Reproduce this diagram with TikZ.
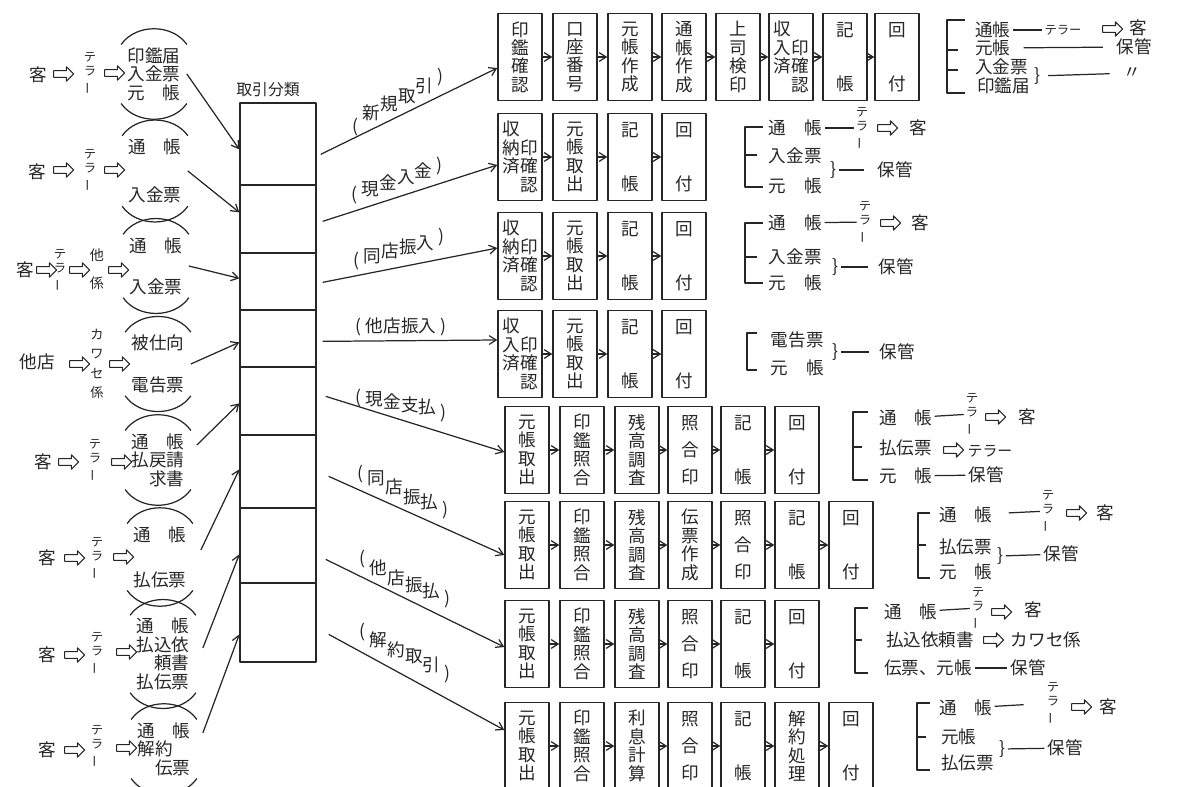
\documentclass[tikz,border=0pt]{standalone}
\usepackage{fontspec}
\setmainfont{Noto Sans CJK JP}
\usepackage{graphicx}
\usepackage{tikz}
\usetikzlibrary{arrows.meta,calc,shapes.arrows}

\newcommand{\tatebo}{\rotatebox[origin=c]{90}{ー}}

\begin{document}
\begin{tikzpicture}[x=0.02cm,y=-0.02cm,>={Straight Barb[length=4pt,width=5pt]},line join=round,
  txt/.style={inner sep=1.5pt,text=black!85,font=\fontsize{10}{10.5}\selectfont},
  grp/.style={txt,align=center,inner xsep=3.5pt},
  tate/.style={inner sep=1pt,align=center,text=black!85,font=\fontsize{7}{8.4}\selectfont},
  kana/.style={inner sep=1.5pt,text=black!85,font=\fontsize{8.5}{9}\selectfont},
  harr/.style={single arrow,draw=black!85,line width=0.6pt,minimum height=0.4cm,inner sep=1.6pt,single arrow head extend=2.2pt},
  stp/.style={draw=black!85,line width=0.8pt,minimum width=0.88cm,minimum height=1.74cm,inner sep=0pt,align=center,text=black!85,font=\fontsize{10}{10.5}\selectfont},
  paren/.style={draw=black!85,line width=0.7pt},
  con/.style={draw=black!85,line width=0.7pt},
  lbl/.style={text=black!85,font=\fontsize{10}{10}\selectfont,inner sep=1pt}]
  \useasboundingbox (0,0) rectangle (1186,787);

  % classification column
  \node[txt,font=\fontsize{9}{9}\selectfont] (ttl) at (268,90) {取引分類};
  \node[draw=black!85,line width=0.8pt,minimum width=1.52cm,minimum height=11.18cm,inner sep=0pt] (cls) at (278,382.5) {};
  \draw[con] (240,185) -- (316,185);
  \draw[con] (240,253) -- (316,253);
  \draw[con] (240,310) -- (316,310);
  \draw[con] (240,367) -- (316,367);
  \draw[con] (240,435) -- (316,435);
  \draw[con] (240,508) -- (316,508);
  \draw[con] (240,583) -- (316,583);

  % incoming documents
  \node[txt] (k1) at (38,75) {客};
  \node[harr] (h1a) at (62,74) {};
  \node[tate] (t1) at (90,73) {テ\\ラ\\\tatebo};
  \node[harr] (h1b) at (113,73) {};
  \node[grp] (g1) at (154,74) {印鑑届\\入金票\\元\hspace{1em}帳};
  \draw[paren] (g1.north west) to[bend left=55] (g1.north east);
  \draw[paren] (g1.south west) to[bend right=55] (g1.south east);
  \draw[con,->] (g1.east) -- ($(cls.north west)+(0,47)$);

  \node[txt] (k2) at (37,172) {客};
  \node[harr] (h2a) at (62,170) {};
  \node[tate] (t2) at (90,170) {テ\\ラ\\\tatebo};
  \node[harr] (h2b) at (113,170) {};
  \node[grp] (g2) at (155,171) {通\hspace{1em}帳\\[17pt]入金票};
  \draw[paren] (g2.north west) to[bend left=55] (g2.north east);
  \draw[paren] (g2.south west) to[bend right=55] (g2.south east);
  \draw[con,->] (g2.east) -- ($(cls.north west)+(0,110)$);

  \node[txt] (k3) at (25,270) {客};
  \node[harr] (h3a) at (45,270) {};
  \node[tate] (t3) at (60,270) {テ\\ラ\\\tatebo};
  \node[harr] (h3b) at (78,270) {};
  \node[tate,font=\fontsize{8}{8}\selectfont] (s3) at (97,269) {他\\[8pt]係};
  \node[harr] (h3c) at (117,270) {};
  \node[grp] (g3) at (156,266) {通\hspace{1em}帳\\[13pt]入金票};
  \draw[paren] (g3.north west) to[bend left=55] (g3.north east);
  \draw[paren] (g3.south west) to[bend right=55] (g3.south east);
  \draw[con,->] (g3.east) -- ($(cls.north west)+(0,176)$);

  \node[txt] (k4) at (37,362) {他店};
  \node[harr] (h4a) at (78,364) {};
  \node[tate,font=\fontsize{7.5}{11}\selectfont] (t4) at (97,364) {カ\\ワ\\セ\\係};
  \node[harr] (h4b) at (118,364) {};
  \node[grp] (g4) at (158,364) {被仕向\\[13pt]電告票};
  \draw[paren] (g4.north west) to[bend left=55] (g4.north east);
  \draw[paren] (g4.south west) to[bend right=55] (g4.south east);
  \draw[con,->] (g4.east) -- ($(cls.north west)+(0,240)$);

  \node[txt] (k5) at (43,462) {客};
  \node[harr] (h5a) at (67,462) {};
  \node[tate] (t5) at (95,460) {テ\\ラ\\\tatebo};
  \node[harr] (h5b) at (120,462) {};
  \node[grp] (g5) at (158,460) {通\hspace{1em}帳\\払戻請\\\phantom{払}求書};
  \draw[paren] (g5.north west) to[bend left=55] (g5.north east);
  \draw[paren] (g5.south west) to[bend right=55] (g5.south east);
  \draw[con,->] ($(g5.east)+(6,-15)$) -- ($(cls.north west)+(0,301)$);

  \node[txt] (k6) at (47,558) {客};
  \node[harr] (h6a) at (73,558) {};
  \node[tate] (t6) at (97,558) {テ\\ラ\\\tatebo};
  \node[harr] (h6b) at (122,557) {};
  \node[grp] (g6) at (160,557) {通\hspace{1em}帳\\[15pt]払伝票};
  \draw[paren] (g6.north west) to[bend left=55] (g6.north east);
  \draw[paren] (g6.south west) to[bend right=55] (g6.south east);
  \draw[con,->] ($(g6.east)+(8,-7)$) -- ($(cls.north west)+(0,367)$);

  \node[txt] (k7) at (47,655) {客};
  \node[harr] (h7a) at (73,655) {};
  \node[tate] (t7) at (97,653) {テ\\ラ\\\tatebo};
  \node[harr] (h7b) at (125,652) {};
  \node[grp] (g7) at (163,654) {通\hspace{1em}帳\\払込依\\\phantom{払}頼書\\払伝票};
  \draw[paren] (g7.north west) to[bend left=55] (g7.north east);
  \draw[paren] (g7.south west) to[bend right=55] (g7.south east);
  \draw[con,->] ($(g7.east)+(7,-6)$) -- ($(cls.north west)+(0,452)$);

  \node[txt] (k8) at (47,750) {客};
  \node[harr] (h8a) at (73,750) {};
  \node[tate] (t8) at (97,746) {テ\\ラ\\\tatebo};
  \node[harr] (h8b) at (125,748) {};
  \node[grp] (g8) at (164,749) {通\hspace{1em}帳\\解約\phantom{伝}\\\phantom{解}伝票};
  \draw[paren] (g8.north west) to[bend left=55] (g8.north east);
  \draw[paren] (g8.south west) to[bend right=55] (g8.south east);
  \draw[con,->] ($(g8.east)+(6,-16)$) -- ($(cls.north west)+(0,532)$);

  % processing steps
  \node[stp] (b11) at (520,57) {印\\鑑\\確\\認};
  \node[stp] (b12) at (575,57) {口\\座\\番\\号};
  \node[stp] (b13) at (630,57) {元\\帳\\作\\成};
  \node[stp] (b14) at (684,57) {通\\帳\\作\\成};
  \node[stp] (b15) at (738,57) {上\\司\\検\\印};
  \node[stp] (b16) at (791,57) {収\phantom{印}\\入印\\済確\\\phantom{済}認};
  \node[stp] (b17) at (845,57) {記\\[20pt]帳};
  \node[stp] (b18) at (897,57) {回\\[20pt]付};
  \draw[con,->] (b11) -- (b12);
  \draw[con,->] (b12) -- (b13);
  \draw[con,->] (b13) -- (b14);
  \draw[con,->] (b14) -- (b15);
  \draw[con,->] (b15) -- (b16);
  \draw[con,->] (b16) -- (b17);
  \draw[con,->] (b17) -- (b18);

  \node[stp] (b21) at (520,157) {収\phantom{印}\\納印\\済確\\\phantom{済}認};
  \node[stp] (b22) at (575,157) {元\\帳\\取\\出};
  \node[stp] (b23) at (630,157) {記\\[20pt]帳};
  \node[stp] (b24) at (684,157) {回\\[20pt]付};
  \draw[con,->] (b21) -- (b22);
  \draw[con,->] (b22) -- (b23);
  \draw[con,->] (b23) -- (b24);

  \node[stp] (b31) at (520,256) {収\phantom{印}\\納印\\済確\\\phantom{済}認};
  \node[stp] (b32) at (575,256) {元\\帳\\取\\出};
  \node[stp] (b33) at (630,256) {記\\[20pt]帳};
  \node[stp] (b34) at (684,256) {回\\[20pt]付};
  \draw[con,->] (b31) -- (b32);
  \draw[con,->] (b32) -- (b33);
  \draw[con,->] (b33) -- (b34);

  \node[stp] (b41) at (520,354) {収\phantom{印}\\入印\\済確\\\phantom{済}認};
  \node[stp] (b42) at (575,354) {元\\帳\\取\\出};
  \node[stp] (b43) at (630,354) {記\\[20pt]帳};
  \node[stp] (b44) at (684,354) {回\\[20pt]付};
  \draw[con,->] (b41) -- (b42);
  \draw[con,->] (b42) -- (b43);
  \draw[con,->] (b43) -- (b44);

  \node[stp] (b51) at (527,450) {元\\帳\\取\\出};
  \node[stp] (b52) at (582,450) {印\\鑑\\照\\合};
  \node[stp] (b53) at (637,450) {残\\高\\調\\査};
  \node[stp] (b54) at (690,450) {照\\[5pt]合\\[5pt]印};
  \node[stp] (b55) at (743,450) {記\\[20pt]帳};
  \node[stp] (b56) at (797,450) {回\\[20pt]付};
  \draw[con,->] (b51) -- (b52);
  \draw[con,->] (b52) -- (b53);
  \draw[con,->] (b53) -- (b54);
  \draw[con,->] (b54) -- (b55);
  \draw[con,->] (b55) -- (b56);

  \node[stp] (b61) at (527,545) {元\\帳\\取\\出};
  \node[stp] (b62) at (582,545) {印\\鑑\\照\\合};
  \node[stp] (b63) at (637,545) {残\\高\\調\\査};
  \node[stp] (b64) at (690,545) {伝\\票\\作\\成};
  \node[stp] (b65) at (743,545) {照\\[5pt]合\\[5pt]印};
  \node[stp] (b66) at (797,545) {記\\[20pt]帳};
  \node[stp] (b67) at (851,545) {回\\[20pt]付};
  \draw[con,->] (b61) -- (b62);
  \draw[con,->] (b62) -- (b63);
  \draw[con,->] (b63) -- (b64);
  \draw[con,->] (b64) -- (b65);
  \draw[con,->] (b65) -- (b66);
  \draw[con,->] (b66) -- (b67);

  \node[stp] (b71) at (527,644) {元\\帳\\取\\出};
  \node[stp] (b72) at (582,644) {印\\鑑\\照\\合};
  \node[stp] (b73) at (637,644) {残\\高\\調\\査};
  \node[stp] (b74) at (690,644) {照\\[5pt]合\\[5pt]印};
  \node[stp] (b75) at (743,644) {記\\[20pt]帳};
  \node[stp] (b76) at (797,644) {回\\[20pt]付};
  \draw[con,->] (b71) -- (b72);
  \draw[con,->] (b72) -- (b73);
  \draw[con,->] (b73) -- (b74);
  \draw[con,->] (b74) -- (b75);
  \draw[con,->] (b75) -- (b76);

  \node[stp] (b81) at (527,746) {元\\帳\\取\\出};
  \node[stp] (b82) at (582,746) {印\\鑑\\照\\合};
  \node[stp] (b83) at (637,746) {利\\息\\計\\算};
  \node[stp] (b84) at (690,746) {照\\[5pt]合\\[5pt]印};
  \node[stp] (b85) at (743,746) {記\\[20pt]帳};
  \node[stp] (b86) at (797,746) {解\\約\\処\\理};
  \node[stp] (b87) at (851,746) {回\\[20pt]付};
  \draw[con,->] (b81) -- (b82);
  \draw[con,->] (b82) -- (b83);
  \draw[con,->] (b83) -- (b84);
  \draw[con,->] (b84) -- (b85);
  \draw[con,->] (b85) -- (b86);
  \draw[con,->] (b86) -- (b87);

  % classified transactions
  \draw[con,->] ($(cls.north east)+(4,52)$) -- ($(b11.west)+(0,11)$);
  \draw[con,->] ($(cls.north east)+(6,119)$) -- ($(b21.west)+(0,8)$);
  \draw[con,->] ($(cls.north east)+(6,180)$) -- ($(b31.west)+(0,-8)$);
  \draw[con,->] ($(cls.north east)+(6,239)$) -- ($(b41.west)+(0,-14)$);
  \draw[con,->] ($(cls.north east)+(9,294)$) -- ($(b51.west)+(0,2)$);
  \draw[con,->] ($(cls.north east)+(12,374)$) -- ($(b61.west)+(0,10)$);
  \draw[con,->] ($(cls.north east)+(9,457)$) -- ($(b71.west)+(0,3)$);
  \draw[con,->] ($(cls.north east)+(12,532)$) -- ($(b81.west)+(0,-16)$);
  \node[lbl] (n1) at (398,102) {(\ \raisebox{7pt}{新}\raisebox{12pt}{規}\raisebox{17pt}{取}\raisebox{22.5pt}{引}\ \raisebox{28pt}{)}};
  \node[lbl] (n2) at (397,181) {(\ \raisebox{3pt}{現}\raisebox{6.5pt}{金}\raisebox{10pt}{入}\raisebox{13.5pt}{金}\ \raisebox{16.5pt}{)}};
  \node[lbl] (n3) at (399,249) {(\ \raisebox{2.5pt}{同}\raisebox{5pt}{店}\raisebox{7.5pt}{振}\raisebox{10pt}{入}\ \raisebox{14pt}{)}};
  \node[lbl] (n4) at (401,327) {(\ 他店振入\ )};
  \node[lbl] (n5) at (401,406) {(\ \raisebox{-1pt}{現}\raisebox{-2.5pt}{金}\raisebox{-4pt}{支}\raisebox{-5.5pt}{払}\ \raisebox{-8.5pt}{)}};
  \node[lbl] (n6) at (403,492) {(\ \raisebox{-3pt}{同}\raisebox{-8.5pt}{店}\raisebox{-14pt}{振}\raisebox{-17pt}{払}\ \raisebox{-21pt}{)}};
  \node[lbl] (n7) at (405,579) {(\ \raisebox{-5.5pt}{他}\raisebox{-11pt}{店}\raisebox{-15pt}{振}\raisebox{-18.5pt}{払}\ \raisebox{-22.5pt}{)}};
  \node[lbl] (n8) at (405,653) {(\ \raisebox{-5pt}{解}\raisebox{-10.5pt}{約}\raisebox{-14pt}{取}\raisebox{-19pt}{引}\ \raisebox{-23.5pt}{)}};

  % where the documents go
  \draw[con] (965,20) -- (947,20) -- (947,93) -- (965,93);
  \draw[con] (947,50) -- (958,50);
  \draw[con] (947,70) -- (958,70);
  \node[txt,anchor=west] (o11) at (972,30) {通帳};
  \node[kana,font=\fontsize{7}{7}\selectfont] (o12) at (1063,30) {テラー};
  \node[harr] (o13) at (1111,29) {};
  \node[txt] (o14) at (1138,28) {客};
  \node[txt,anchor=west] (o15) at (972,48) {元帳};
  \node[txt] (o16) at (1134,47) {保管};
  \node[txt,anchor=west] (o17) at (972,67) {入金票};
  \node[txt,anchor=west] (o18) at (974,86) {印鑑届};
  \node[txt] (o19) at (1037,76) {\}};
  \node[txt] (o1a) at (1132,73) {〃};
  \draw[con] (o11) -- (o12);
  \draw[con,shorten <=6pt,shorten >=6pt] (o15) -- (o16);
  \draw[con,shorten <=3pt,shorten >=6pt] (o19) -- (o1a);

  \draw[con] (763,127) -- (745,127) -- (745,187) -- (763,187);
  \draw[con] (745,155) -- (757,155);
  \node[txt,anchor=west] (o21) at (766,128) {通\hspace{1em}帳};
  \node[tate] (o22) at (862,128) {テ\\ラ\\\tatebo};
  \node[harr] (o23) at (886,128) {};
  \node[txt] (o24) at (918,128) {客};
  \node[txt,anchor=west] (o25) at (766,156) {入金票};
  \node[txt,anchor=west] (o26) at (766,186) {元\hspace{1em}帳};
  \node[txt] (o27) at (833,170) {\}};
  \node[txt] (o28) at (895,170) {保管};
  \draw[con] (o21) -- (o22);
  \draw[con,shorten >=6pt] (o27) -- (o28);

  \draw[con] (763,223) -- (745,223) -- (745,283) -- (763,283);
  \draw[con] (745,257) -- (757,257);
  \node[txt,anchor=west] (o31) at (766,223) {通\hspace{1em}帳};
  \node[tate] (o32) at (865,222) {テ\\ラ\\\tatebo};
  \node[harr] (o33) at (889,223) {};
  \node[txt] (o34) at (920,223) {客};
  \node[txt,anchor=west] (o35) at (766,257) {入金票};
  \node[txt,anchor=west] (o36) at (766,283) {元\hspace{1em}帳};
  \node[txt] (o37) at (835,267) {\}};
  \node[txt] (o38) at (896,267) {保管};
  \draw[con] (o31) -- (o32);
  \draw[con,shorten >=4pt] (o37) -- (o38);

  \draw[con] (757,333) -- (747,333) -- (747,370) -- (757,370);
  \node[txt,anchor=west] (o41) at (768,340) {電告票};
  \node[txt,anchor=west] (o42) at (768,368) {元\hspace{1em}帳};
  \node[txt] (o43) at (835,352) {\}};
  \node[txt] (o44) at (897,352) {保管};
  \draw[con,shorten >=4pt] (o43) -- (o44);

  \draw[con] (868,412) -- (853,412) -- (853,480) -- (868,480);
  \draw[con] (853,447) -- (862,447);
  \node[txt,anchor=west] (o51) at (876,418) {通\hspace{1em}帳};
  \node[tate] (o52) at (972,414) {テ\\ラ\\\tatebo};
  \node[harr] (o53) at (994,417) {};
  \node[txt] (o54) at (1027,417) {客};
  \node[txt,anchor=west] (o55) at (876,448) {払伝票};
  \node[harr] (o56) at (952,450) {};
  \node[kana] (o57) at (990,451) {テラー};
  \node[txt,anchor=west] (o58) at (876,476) {元\hspace{1em}帳};
  \node[txt] (o59) at (986,475) {保管};
  \draw[con] (o51) -- (o52);
  \draw[con] (o58) -- (o59);

  \draw[con] (930,513) -- (918,513) -- (918,578) -- (930,578);
  \draw[con] (918,545) -- (926,545);
  \node[txt,anchor=west] (o61) at (936,515) {通\hspace{1em}帳};
  \node[tate] (o62) at (1048,511) {テ\\ラ\\\tatebo};
  \node[harr] (o63) at (1075,513) {};
  \node[txt] (o64) at (1105,513) {客};
  \node[txt,anchor=west] (o65) at (936,547) {払伝票};
  \node[txt,anchor=west] (o66) at (936,572) {元\hspace{1em}帳};
  \node[txt] (o67) at (1000,556) {\}};
  \node[txt] (o68) at (1061,554) {保管};
  \draw[con,shorten <=8pt] (o61) -- (o62);
  \draw[con] (o67) -- (o68);

  \draw[con] (868,608) -- (855,608) -- (855,673) -- (868,673);
  \draw[con] (855,640) -- (862,640);
  \node[txt,anchor=west] (o71) at (881,612) {通\hspace{1em}帳};
  \node[tate] (o72) at (978,608) {テ\\ラ\\\tatebo};
  \node[harr] (o73) at (1000,612) {};
  \node[txt] (o74) at (1033,610) {客};
  \node[txt,anchor=west] (o75) at (883,640) {払込依頼書};
  \node[harr] (o76) at (992,640) {};
  \node[txt] (o77) at (1046,640) {カワセ係};
  \node[txt,anchor=west] (o78) at (881,668) {伝票、元帳};
  \node[txt] (o79) at (1028,668) {保管};
  \draw[con] (o71) -- (o72);
  \draw[con] (o78) -- (o79);

  \draw[con] (930,703) -- (917,703) -- (917,770) -- (930,770);
  \draw[con] (917,737) -- (926,737);
  \node[txt,anchor=west] (o81) at (936,708) {通\hspace{1em}帳};
  \node[tate] (o82) at (1053,703) {テ\\ラ\\\tatebo};
  \node[harr] (o83) at (1080,707) {};
  \node[txt] (o84) at (1108,707) {客};
  \node[txt,anchor=west] (o85) at (938,737) {元帳};
  \node[txt,anchor=west] (o86) at (938,763) {払伝票};
  \node[txt] (o87) at (1002,749) {\}};
  \node[txt] (o88) at (1065,748) {保管};
  \draw[con,shorten >=12pt] (o81) -- (o82);
  \draw[con] (o87) -- (o88);
\end{tikzpicture}
\end{document}
